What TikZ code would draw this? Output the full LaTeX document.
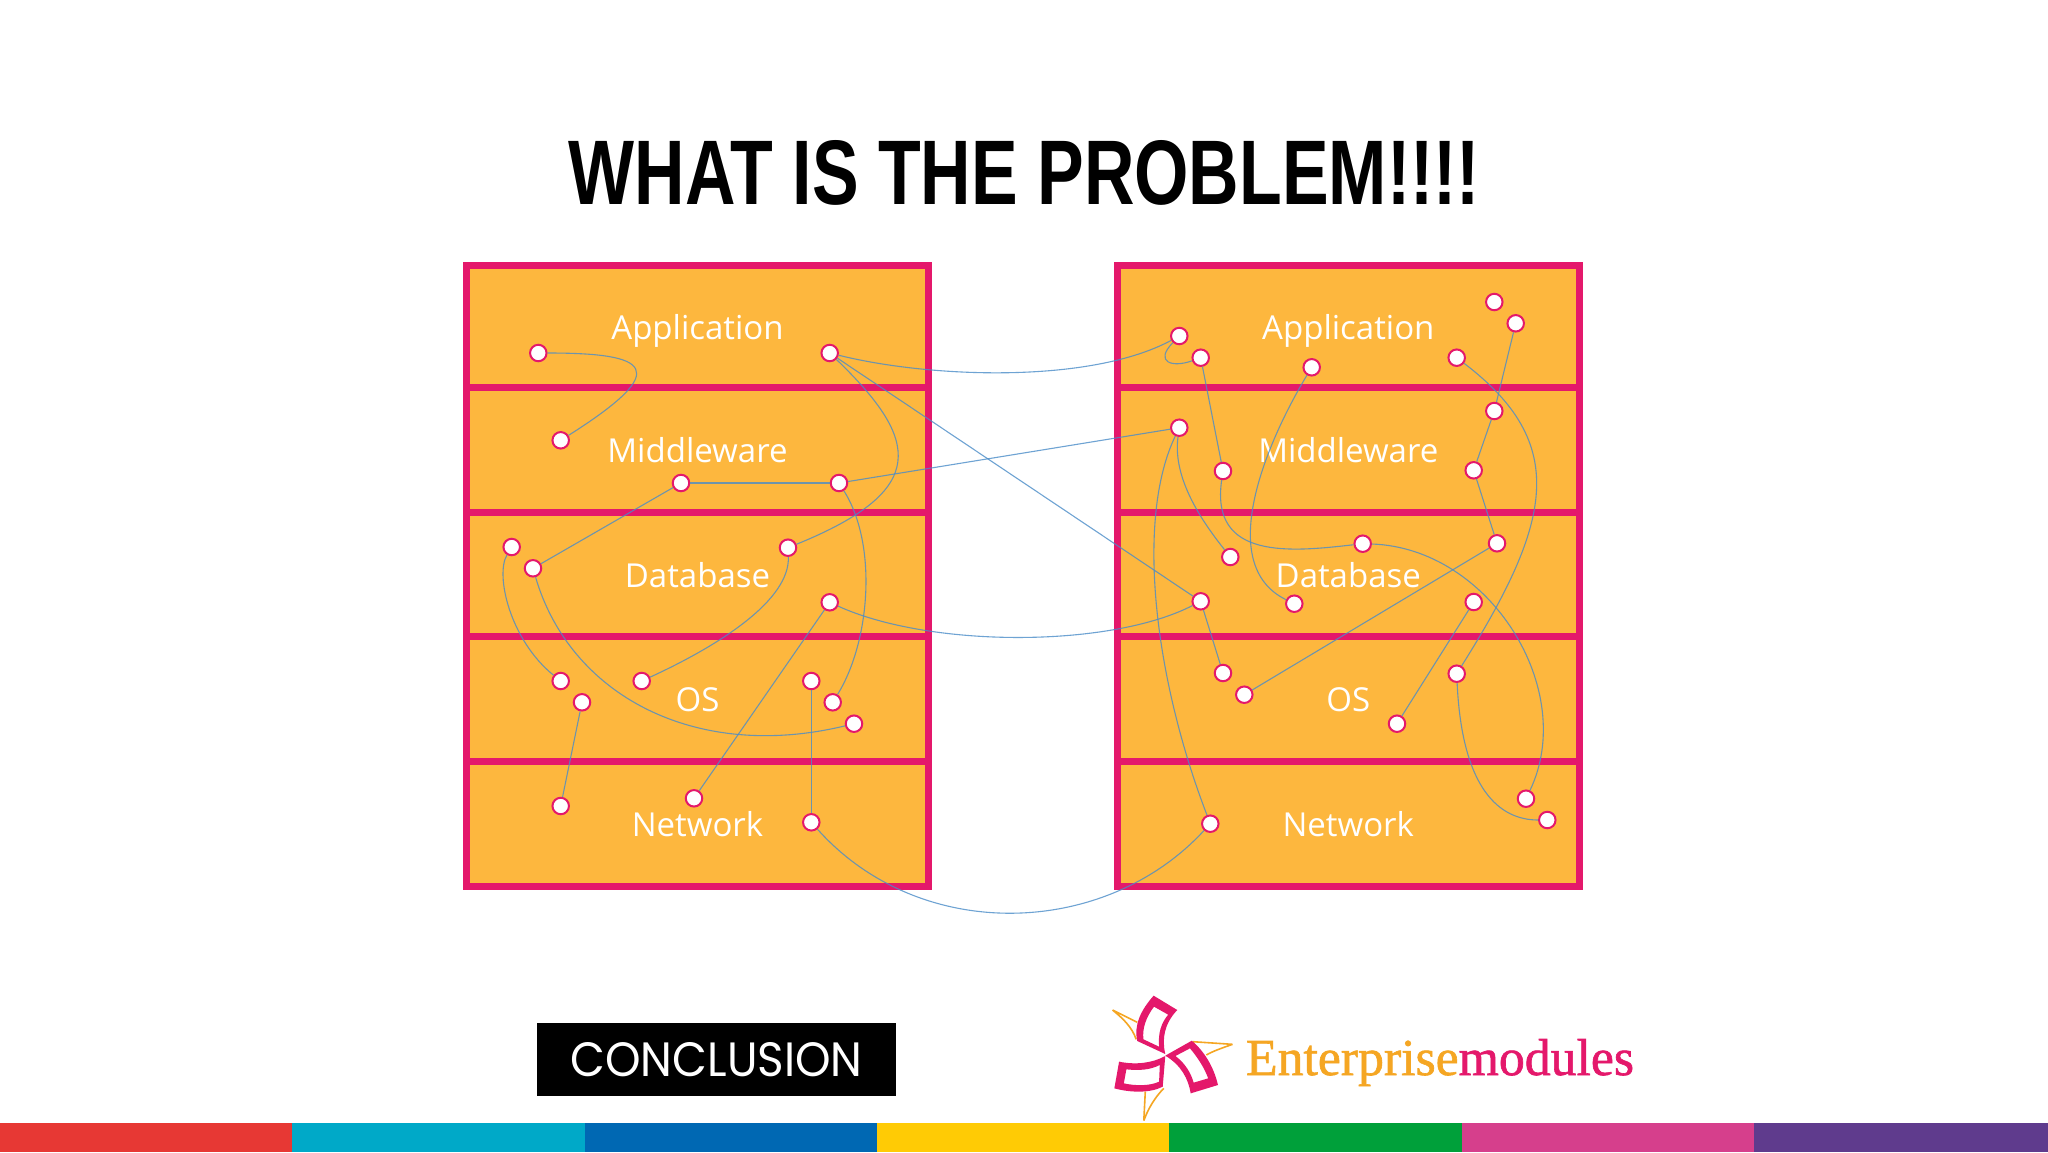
\documentclass[tikz,border=0pt]{standalone}
\usepackage{fontspec}
\usepackage{graphicx}
\usetikzlibrary{shadows}
\newfontfamily\layerfont{Open Sans}
\newfontfamily\titlefont{Liberation Sans}
\newfontfamily\logofont[FakeBold=1.2]{Liberation Serif}
\newfontfamily\concfont{Poppins}
\definecolor{stackpink}{HTML}{E4186B}
\definecolor{stackorange}{HTML}{FDB73E}
\definecolor{linkblue}{HTML}{4A8CC8}
\definecolor{logoorange}{HTML}{F5A623}
\tikzset{
  layer/.style={draw=stackpink, line width=7pt, fill=stackorange, minimum width=462pt,
    text=white, font=\fontsize{33}{33}\layerfont, text height=25pt, text depth=0pt,
    drop shadow={shadow xshift=0pt, shadow yshift=-2pt, opacity=.2, fill=black}},
  dot/.style={circle, draw=stackpink, line width=2pt, fill=white, inner sep=0pt, minimum size=16.5pt},
  link/.style={draw=linkblue, line width=1.1pt, draw opacity=.8},
  spike/.style={draw=logoorange, line width=1.6pt},
  frame/.style={fill=stackpink, even odd rule},
}
\begin{document}
\begin{tikzpicture}[x=1pt, y=-1pt]
    \useasboundingbox (0,0) rectangle (2048,1152);
    \fill[white] (0,0) rectangle (2048,1152);

    \node[inner sep=0pt] (title) at (1024.5,173) {\resizebox{911pt}{64pt}{\titlefont\bfseries WHAT IS THE PROBLEM!!!!}};

    % First we draw the two stacks
    \foreach \name/\id/\y/\h in {Application/App/326.6/122.2, Middleware/Mid/450.3/125.1, Database/Db/575/124.2, OS/Os/699.3/124.7, Network/Net/824/124.6}{
        \node[layer, minimum height=\h pt] (L\id) at (697.5,\y) {\name};
        \node[layer, minimum height=\h pt] (R\id) at (1348.3,\y) {\name};
    }

    % left dots
    \foreach \id/\x/\y in {a1/538.3/353, a2/829.7/353, m1/560.7/440.3, m2/681/483, m3/839/483,
        d1/511.7/547, d2/533/568.3, d3/788/547.7, d4/829.7/602.3,
        o1/560.7/681, o2/582/702.3, o3/641.7/681, o4/811.3/681, o5/832.7/702.3, o6/854/723.7,
        n1/560.7/806, n2/694/798.3, n3/811.3/822.3}
        \node[dot] (\id) at (\x,\y) {};

    % right dots
    \foreach \id/\x/\y in {A1/1179.3/336, A2/1200.7/357.7, A3/1311.7/367.3, A4/1494.3/302, A5/1515.7/323.3, A6/1456.7/357.7,
        M1/1179.3/427.7, M2/1223/471, M3/1494.3/411, M4/1473.7/470.3,
        D1/1230.3/557, D2/1200.7/601.3, D3/1294.3/603.7, D4/1362.7/543.7, D5/1497/543.3, D6/1473.7/602,
        O1/1223/673, O2/1244.3/694.7, O3/1397/723.7, O4/1456.7/673.7,
        N1/1210.3/823.7, N2/1526/798.7, N3/1547.3/820}
        \node[dot] (\id) at (\x,\y) {};

    % straight links
    \foreach \from/\to in {m2/m3, m2/d2, d4/n2, o2/n1, o4/n3, a2/D2, m3/M1, A2/M2, A5/M3, M3/M4, M4/D5, D5/O2, D6/O3, D2/O1}
        \draw[link] (\from) -- (\to);

    % curved links, left
    \draw[link] (a1) .. controls (648,353) and (675,368) .. (m1);
    \draw[link] (a2) .. controls (920,440) and (930,490) .. (d3);
    \draw[link] (m3) .. controls (878,545) and (870,642) .. (o5);
    \draw[link] (d1) .. controls (495,575) and (510,640) .. (o1);
    \draw[link] (d2) .. controls (570,695) and (695,762) .. (o6);
    \draw[link] (d3) .. controls (790,600) and (720,645) .. (o3);

    % curved links, across
    \draw[link] (a2) .. controls (930,378) and (1090,384) .. (A1);
    \draw[link] (d4) .. controls (930,648) and (1110,648) .. (D2);
    \draw[link] (n3) .. controls (920,944) and (1105,938) .. (N1);

    % curved links, right
    \draw[link] (A1) .. controls (1154,362) and (1172,368) .. (A2);
    \draw[link] (A3) .. controls (1265,445) and (1215,565) .. (D3);
    \draw[link] (A6) .. controls (1570,444) and (1552,522) .. (O4);
    \draw[link] (M1) .. controls (1172,480) and (1205,525) .. (D1);
    \draw[link] (M1) .. controls (1135,520) and (1155,680) .. (N1);
    \draw[link] (M2) .. controls (1210,560) and (1290,552) .. (D4);
    \draw[link] (D4) .. controls (1490,548) and (1578,690) .. (N2);
    \draw[link] (O4) .. controls (1462,790) and (1500,820) .. (N3);

    % conclusion box
    \node[fill=black, minimum width=358.7pt, minimum height=73pt, inner sep=0pt] (conclusion) at (716.6,1059.8)
        {\resizebox{292pt}{34pt}{\color{white}\concfont CONCLUSION}};

    % logo text
    \node[anchor=base west, inner sep=0pt, outer sep=0pt] (modules) at (1246,1075)
        {\resizebox{388pt}{36pt}{\logofont\fontsize{50}{50}\selectfont{\color{logoorange}Enterprise}{\color{stackpink}modules}}};

    % logo mark
    \begin{scope}[shift={(1090,980)}, x=0.3636pt, y=-0.3333pt]
        \draw[spike] (62,90) -- (130,127) (62,90) .. controls (90,115) and (115,140) .. (127,178);
        \draw[spike] (392,193) -- (282,185) (392,193) .. controls (360,205) and (335,215) .. (320,225);
        \draw[spike] (148,422) -- (152,335) (148,422) .. controls (160,385) and (180,350) .. (203,325);
        \fill[frame] (175,47) -- (240,90) .. controls (205,130) and (197,175) .. (207,222) -- (130,183) .. controls (120,135) and (140,90) .. (175,47)
            (176,80) -- (215,104) .. controls (195,130) and (187,160) .. (190,200) -- (147,178) .. controls (143,145) and (155,110) .. (176,80);
        \fill[frame] (280,182) .. controls (315,215) and (340,260) .. (352,315) -- (277,340) .. controls (270,295) and (250,255) .. (207,227) -- (280,182)
            (275,205) .. controls (298,235) and (315,265) .. (325,295) -- (285,308) .. controls (278,280) and (262,250) .. (235,228) -- (275,205);
        \fill[frame] (207,228) .. controls (170,250) and (125,255) .. (80,245) -- (67,325) .. controls (110,338) and (165,340) .. (200,320) -- (207,228)
            (192,255) .. controls (165,270) and (135,272) .. (100,268) -- (93,310) .. controls (125,318) and (165,318) .. (190,305) -- (192,255);
    \end{scope}

    % colour strip
    \foreach \i/\col in {0/E73834, 1/00A9C8, 2/0068B3, 3/FFCB05, 4/00A03A, 5/D63F8C, 6/5F3B8D}{
        \definecolor{stripcol}{HTML}{\col}
        \fill[stripcol] ({\i*292.3},1122.7) rectangle ++(294,29.3);
    }
\end{tikzpicture}
\end{document}
